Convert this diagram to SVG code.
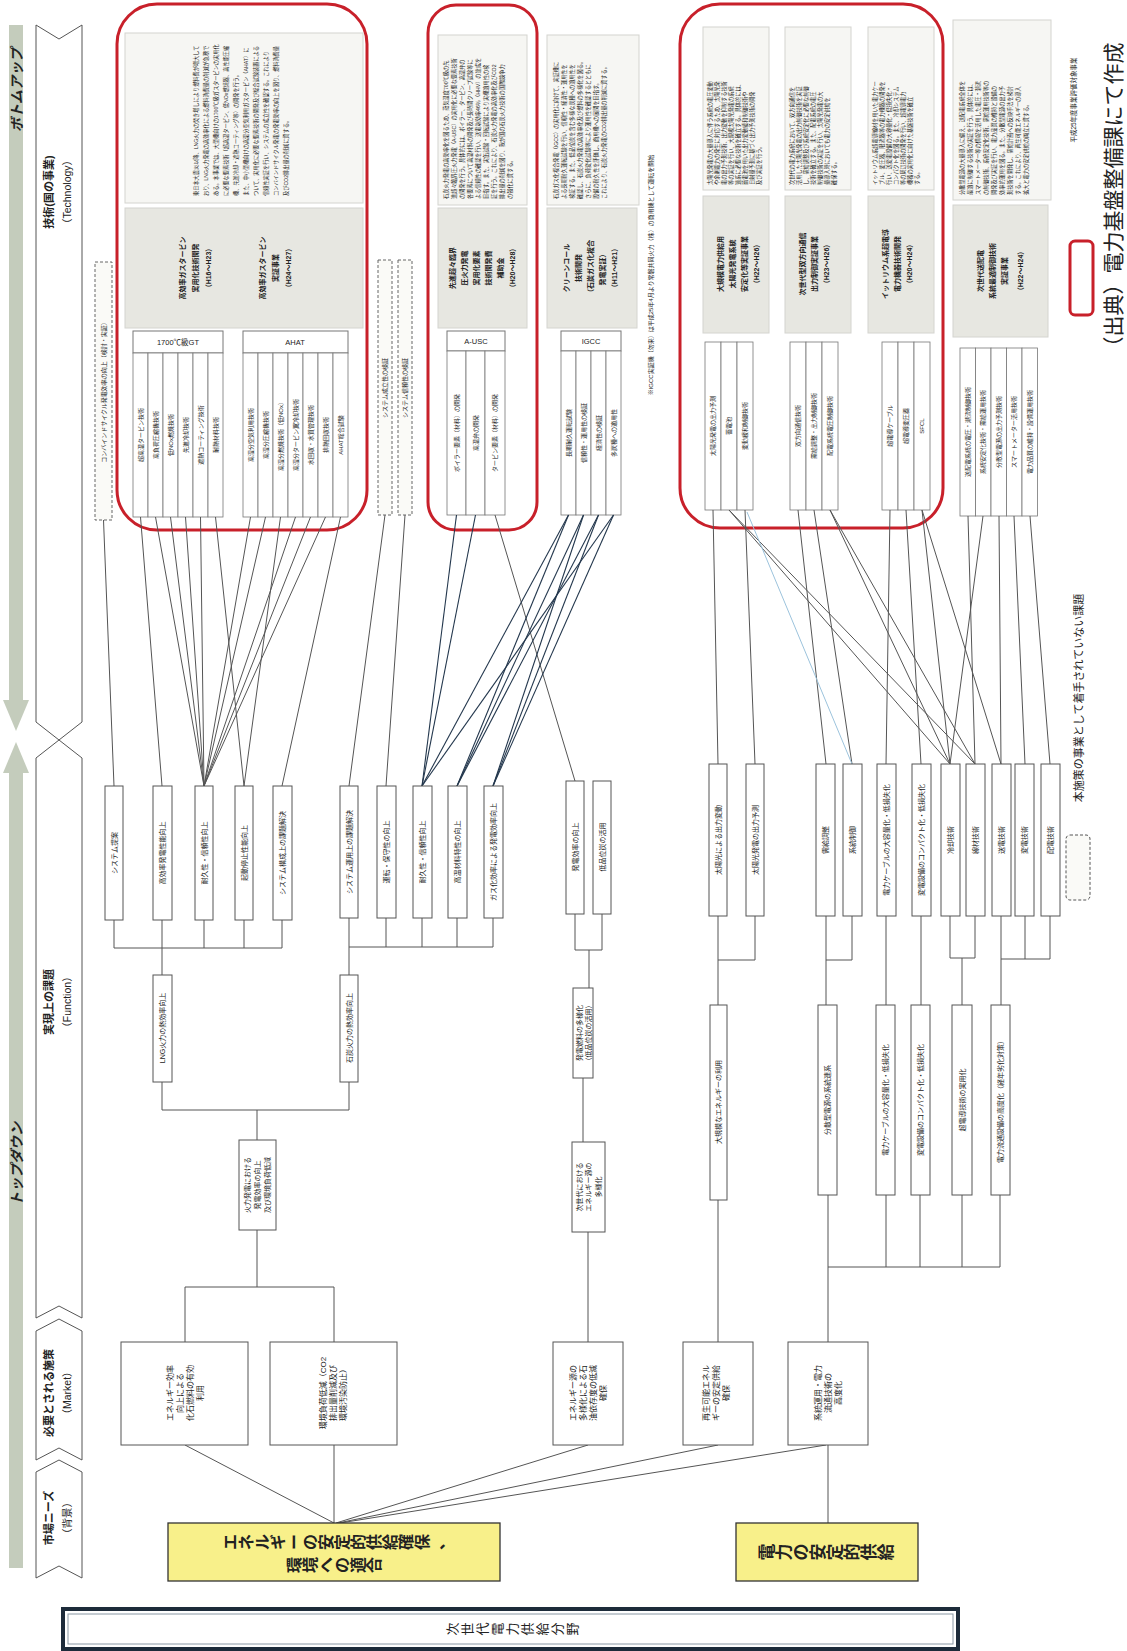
<svg xmlns="http://www.w3.org/2000/svg" width="1127" height="1651" viewBox="0 0 1127 1651">
<style>
text{font-family:"Liberation Sans","Noto Sans CJK JP",sans-serif;fill:#222}
.bx{fill:#fff;stroke:#555;stroke-width:1}
.ln{fill:none;stroke:#555;stroke-width:1}
.lb{fill:none;stroke:#23374d;stroke-width:1.1}
.lc{fill:none;stroke:#9cc3dc;stroke-width:1}
.red{fill:none;stroke:#c8202a;stroke-width:3}
.dash{fill:#fafaf7;stroke:#666;stroke-width:1;stroke-dasharray:3 2}
.desc{fill:#f6f6f3;stroke:#d4d4cf;stroke-width:1}
.grey{fill:#e7e7e1;stroke:#d4d4cf;stroke-width:1}
.hd{fill:#fff;stroke:#777;stroke-width:1}
.cell{fill:#fff;stroke:#777;stroke-width:0.8}
.chev{fill:#fff;stroke:#555;stroke-width:1}
.bar{fill:#c4ccbc}
.yel{fill:#f8f08a;stroke:#333;stroke-width:1.3}
.f7{font-size:7px}
.f6{font-size:6px}
.f5{font-size:5.2px}
.f8{font-size:8px}
.b{font-weight:bold}
.g16{font-size:16px;font-weight:bold}
.g17{font-size:17px;font-weight:bold}
.g13{font-size:13px}
</style>

<g id="header">
<rect class="bar" x="9" y="25" width="14" height="676"/>
<polygon class="bar" points="3,700 29,700 16,731"/>
<polygon class="bar" points="3,773 29,773 16,742"/>
<rect class="bar" x="9" y="772" width="14" height="796"/>
<path class="chev" d="M36,25 L59,39 L82,25 L82,722 L59,740 L36,722 Z"/>
<path class="chev" d="M36,758 L59,740 L82,758 L82,1318 L59,1306 L36,1318 Z"/>
<path class="chev" d="M36,1331 L59,1319 L82,1331 L82,1460 L59,1448 L36,1460 Z"/>
<path class="chev" d="M36,1472 L59,1460 L82,1472 L82,1578 L59,1566 L36,1578 Z"/>
<text transform="translate(17,90) rotate(-90)" text-anchor="middle" dominant-baseline="central" font-size="14" font-weight="bold" font-style="italic">ボトムアップ</text>
<text transform="translate(17,1164) rotate(-90)" text-anchor="middle" dominant-baseline="central" font-size="14" font-weight="bold" font-style="italic">トップダウン</text>
<text transform="translate(49,192) rotate(-90)" text-anchor="middle" dominant-baseline="central" font-size="11" font-weight="bold">技術(国の事業)</text>
<text transform="translate(67,192) rotate(-90)" text-anchor="middle" dominant-baseline="central" font-size="10.5">（Technology）</text>
<text transform="translate(49,1002) rotate(-90)" text-anchor="middle" dominant-baseline="central" font-size="11" font-weight="bold">実現上の課題</text>
<text transform="translate(67,1002) rotate(-90)" text-anchor="middle" dominant-baseline="central" font-size="10.5">（Function）</text>
<text transform="translate(49,1393) rotate(-90)" text-anchor="middle" dominant-baseline="central" font-size="11" font-weight="bold">必要とされる施策</text>
<text transform="translate(67,1393) rotate(-90)" text-anchor="middle" dominant-baseline="central" font-size="10.5">（Market）</text>
<text transform="translate(49,1518) rotate(-90)" text-anchor="middle" dominant-baseline="central" font-size="11" font-weight="bold">市場ニーズ</text>
<text transform="translate(67,1518) rotate(-90)" text-anchor="middle" dominant-baseline="central" font-size="10.5">（背景）</text>
</g>

<g id="title">
<rect x="63" y="1609" width="895" height="40" fill="#fff" stroke="#1d2b3a" stroke-width="4"/>
<rect x="68" y="1614" width="885" height="30" fill="none" stroke="#8a97a4" stroke-width="1"/>
<g class="g13" text-anchor="middle" dominant-baseline="central">
<text transform="translate(452,1629) rotate(-90)">次</text>
<text transform="translate(467,1629) rotate(-90)">世</text>
<text transform="translate(482,1629) rotate(-90)">代</text>
<text transform="translate(497,1629) rotate(-90)">電</text>
<text transform="translate(512,1629) rotate(-90)">力</text>
<text transform="translate(527,1629) rotate(-90)">供</text>
<text transform="translate(542,1629) rotate(-90)">給</text>
<text transform="translate(557,1629) rotate(-90)">分</text>
<text transform="translate(572,1629) rotate(-90)">野</text>
</g>
</g>

<g id="legend">
<text transform="translate(1073,100) rotate(-90)" text-anchor="middle" dominant-baseline="central" font-size="6.5">平成25年度事業評価対象事業</text>
<rect x="1070" y="241" width="23" height="74" rx="5" fill="none" stroke="#c8202a" stroke-width="3"/>
<text transform="translate(1113,200) rotate(-90)" text-anchor="middle" dominant-baseline="central" font-size="21">（出典）電力基盤整備課にて作成</text>
<text transform="translate(1079,698) rotate(-90)" text-anchor="middle" dominant-baseline="central" font-size="11">本施策の事業として着手されていない課題</text>
<rect x="1066" y="835" width="24" height="65" rx="4" fill="#fafaf7" stroke="#555" stroke-dasharray="3 2"/>
</g>

<!-- ===== Technology: red box A (gas turbine) ===== -->
<g id="tech-gt">
<rect class="red" x="117" y="4" width="250" height="526" rx="40"/>
<rect class="desc" x="125" y="33" width="238" height="170"/>
<g class="f5" text-anchor="start" dominant-baseline="central">
<text transform="translate(196,196) rotate(-90)">東日本大震災以降、LNG火力の焚き増しにより燃料費が増大して</text>
<text transform="translate(206,196) rotate(-90)">おり、LNG火力発電の高効率化による燃料消費量の削減が急務で</text>
<text transform="translate(216,196) rotate(-90)">ある。本事業では、大型機向けの1700℃級ガスタービンの実用化</text>
<text transform="translate(226,196) rotate(-90)">に必要な要素技術（超高温タービン、低NOx燃焼器、高性能圧縮</text>
<text transform="translate(236,196) rotate(-90)">機、先進冷却・遮熱コーティング等）の開発を行う。</text>
<text transform="translate(246,196) rotate(-90)">また、中小型機向けの高湿分空気利用ガスタービン（AHAT）に</text>
<text transform="translate(256,196) rotate(-90)">ついて、実用化に必要な要素技術の開発及び総合試験装置による</text>
<text transform="translate(266,196) rotate(-90)">信頼性実証を行い、システムの成立性を確認する。これにより</text>
<text transform="translate(276,196) rotate(-90)">コンバインドサイクル発電の発電効率の向上を図り、燃料消費量</text>
<text transform="translate(286,196) rotate(-90)">及びCO2排出量の削減に資する。</text>
</g>
<rect class="grey" x="125" y="208" width="238" height="120"/>
<g class="f7 b" text-anchor="middle" dominant-baseline="central">
<text transform="translate(182,268) rotate(-90)">高効率ガスタービン</text>
<text transform="translate(195,268) rotate(-90)">実用化技術開発</text>
<text transform="translate(208,268) rotate(-90)">（H16～H23）</text>
<text transform="translate(262,268) rotate(-90)">高効率ガスタービン</text>
<text transform="translate(275,268) rotate(-90)">実証事業</text>
<text transform="translate(288,268) rotate(-90)">（H24～H27）</text>
</g>
<rect class="hd" x="133" y="331" width="90" height="22"/>
<text x="178" y="345" text-anchor="middle" font-size="7.5">1700℃級GT</text>
<rect class="hd" x="243" y="331" width="105" height="22"/>
<text x="295" y="345" text-anchor="middle" font-size="7.5">AHAT</text>
<rect class="cell" x="133" y="353" width="15" height="164"/>
<rect class="cell" x="148" y="353" width="15" height="164"/>
<rect class="cell" x="163" y="353" width="15" height="164"/>
<rect class="cell" x="178" y="353" width="15" height="164"/>
<rect class="cell" x="193" y="353" width="15" height="164"/>
<rect class="cell" x="208" y="353" width="15" height="164"/>
<rect class="cell" x="243" y="353" width="15" height="164"/>
<rect class="cell" x="258" y="353" width="15" height="164"/>
<rect class="cell" x="273" y="353" width="15" height="164"/>
<rect class="cell" x="288" y="353" width="15" height="164"/>
<rect class="cell" x="303" y="353" width="15" height="164"/>
<rect class="cell" x="318" y="353" width="15" height="164"/>
<rect class="cell" x="333" y="353" width="15" height="164"/>
<g class="f6" text-anchor="middle" dominant-baseline="central">
<text transform="translate(140.5,435) rotate(-90)">超高温タービン技術</text>
<text transform="translate(155.5,435) rotate(-90)">高負荷圧縮機技術</text>
<text transform="translate(170.5,435) rotate(-90)">低NOx燃焼技術</text>
<text transform="translate(185.5,435) rotate(-90)">先進冷却技術</text>
<text transform="translate(200.5,435) rotate(-90)">遮熱コーティング技術</text>
<text transform="translate(215.5,435) rotate(-90)">耐熱材料技術</text>
<text transform="translate(250.5,435) rotate(-90)">高湿分空気利用技術</text>
<text transform="translate(265.5,435) rotate(-90)">高湿分圧縮機技術</text>
<text transform="translate(280.5,435) rotate(-90)">高湿分燃焼技術（低NOx）</text>
<text transform="translate(295.5,435) rotate(-90)">高湿分タービン翼冷却技術</text>
<text transform="translate(310.5,435) rotate(-90)">水回収・水質管理技術</text>
<text transform="translate(325.5,435) rotate(-90)">排熱回収技術</text>
<text transform="translate(340.5,435) rotate(-90)">AHAT総合試験</text>
</g>
</g>

<g id="tech-dashed">
<rect class="dash" x="95" y="262" width="17" height="258"/>
<text transform="translate(103.5,391) rotate(-90)" class="f6" text-anchor="middle" dominant-baseline="central">コンバインドサイクル発電効率の向上（検討・実証）</text>
<rect class="dash" x="378" y="260" width="14" height="255"/>
<text transform="translate(385,388) rotate(-90)" class="f6" text-anchor="middle" dominant-baseline="central">システム成立性の検証</text>
<rect class="dash" x="398" y="260" width="14" height="255"/>
<text transform="translate(405,388) rotate(-90)" class="f6" text-anchor="middle" dominant-baseline="central">システム信頼性の検証</text>
</g>

<!-- ===== red box B (A-USC) ===== -->
<g id="tech-ausc">
<rect class="red" x="428" y="5" width="109" height="525" rx="28"/>
<rect class="desc" x="438" y="35" width="89" height="170"/>
<g class="f5" text-anchor="start" dominant-baseline="central">
<text transform="translate(446,199) rotate(-90)">石炭火力発電の高効率化を図るため、蒸気温度700℃級の先</text>
<text transform="translate(454,199) rotate(-90)">進超々臨界圧火力発電（A-USC）の実用化に必要な要素技術</text>
<text transform="translate(462,199) rotate(-90)">の開発を行う。具体的には、ボイラー、タービン、高温弁の</text>
<text transform="translate(470,199) rotate(-90)">各要素について高温材料の開発及び長時間クリープ試験等に</text>
<text transform="translate(478,199) rotate(-90)">よる信頼性の確認を行い、送電端効率46％（HHV）の達成を</text>
<text transform="translate(486,199) rotate(-90)">目指す。また、実缶試験・回転試験により実機適用性の検</text>
<text transform="translate(494,199) rotate(-90)">証を行う。これにより、石炭火力発電の高効率化及びCO2</text>
<text transform="translate(502,199) rotate(-90)">排出量の削減を図り、我が国の石炭火力技術の国際競争力</text>
<text transform="translate(510,199) rotate(-90)">の強化に資する。</text>
</g>
<rect class="grey" x="438" y="208" width="89" height="120"/>
<g class="f7 b" text-anchor="middle" dominant-baseline="central">
<text transform="translate(452,268) rotate(-90)">先進超々臨界</text>
<text transform="translate(464,268) rotate(-90)">圧火力発電</text>
<text transform="translate(476,268) rotate(-90)">実用化要素</text>
<text transform="translate(488,268) rotate(-90)">技術開発費</text>
<text transform="translate(500,268) rotate(-90)">補助金</text>
<text transform="translate(512,268) rotate(-90)">（H20～H28）</text>
</g>
<rect class="hd" x="447" y="331" width="58" height="20"/>
<text x="476" y="344" text-anchor="middle" font-size="7.5">A-USC</text>
<rect class="cell" x="447" y="351" width="19" height="164"/>
<rect class="cell" x="466" y="351" width="19" height="164"/>
<rect class="cell" x="485" y="351" width="20" height="164"/>
<g class="f6" text-anchor="middle" dominant-baseline="central">
<text transform="translate(456.5,433) rotate(-90)">ボイラー要素（材料）の開発</text>
<text transform="translate(475.5,433) rotate(-90)">高温弁の開発</text>
<text transform="translate(495,433) rotate(-90)">タービン要素（材料）の開発</text>
</g>
</g>

<!-- ===== IGCC ===== -->
<g id="tech-igcc">
<rect class="desc" x="547" y="35" width="92" height="170"/>
<g class="f5" text-anchor="start" dominant-baseline="central">
<text transform="translate(556,199) rotate(-90)">石炭ガス化複合発電（IGCC）の実用化に向けて、実証機に</text>
<text transform="translate(564,199) rotate(-90)">よる長期耐久運転試験を行い、信頼性・経済性・運用性を</text>
<text transform="translate(572,199) rotate(-90)">検証する。また、低品位炭を含む多様な炭種への適用性を</text>
<text transform="translate(580,199) rotate(-90)">確認し、石炭火力発電の高効率化及び燃料の多様化を図る。</text>
<text transform="translate(588,199) rotate(-90)">さらに、負荷変化試験等により運用性を確認するとともに</text>
<text transform="translate(596,199) rotate(-90)">設備の耐久性を評価し、商用機への展開を目指す。</text>
<text transform="translate(604,199) rotate(-90)">これにより、石炭火力発電のCO2排出量の削減に資する。</text>
</g>
<rect class="grey" x="547" y="208" width="90" height="120"/>
<g class="f7 b" text-anchor="middle" dominant-baseline="central">
<text transform="translate(566,268) rotate(-90)">クリーンコール</text>
<text transform="translate(578,268) rotate(-90)">技術開発</text>
<text transform="translate(590,268) rotate(-90)">（石炭ガス化複合</text>
<text transform="translate(602,268) rotate(-90)">発電実証）</text>
<text transform="translate(614,268) rotate(-90)">（H11～H21）</text>
</g>
<rect class="hd" x="561" y="331" width="60" height="20"/>
<text x="591" y="344" text-anchor="middle" font-size="7.5">IGCC</text>
<rect class="cell" x="561" y="351" width="15" height="164"/>
<rect class="cell" x="576" y="351" width="15" height="164"/>
<rect class="cell" x="591" y="351" width="15" height="164"/>
<rect class="cell" x="606" y="351" width="15" height="164"/>
<g class="f6" text-anchor="middle" dominant-baseline="central">
<text transform="translate(568.5,433) rotate(-90)">長期耐久運転試験</text>
<text transform="translate(583.5,433) rotate(-90)">信頼性・運用性の検証</text>
<text transform="translate(598.5,433) rotate(-90)">経済性の検証</text>
<text transform="translate(613.5,433) rotate(-90)">多炭種への適用性</text>
</g>
<text transform="translate(651,275) rotate(-90)" class="f6" text-anchor="middle" dominant-baseline="central">※IGCC実証機（勿来）は平成25年4月より常磐共同火力（株）の商用機として運転を開始</text>
</g>

<!-- ===== red box C (grid) ===== -->
<g id="tech-grid">
<rect class="red" x="680" y="4" width="263" height="524" rx="40"/>
<rect class="desc" x="703" y="27" width="66" height="163"/>
<rect class="desc" x="785" y="27" width="66" height="163"/>
<rect class="desc" x="868" y="27" width="66" height="163"/>
<g class="f5" text-anchor="start" dominant-baseline="central">
<text transform="translate(710,185) rotate(-90)">太陽光発電の大量導入に伴う系統の電圧変動</text>
<text transform="translate(717,185) rotate(-90)">や余剰電力の発生に対応するため、太陽光発</text>
<text transform="translate(724,185) rotate(-90)">電の出力予測技術、出力変動を抑制する技術</text>
<text transform="translate(731,185) rotate(-90)">等の実証を行い、大規模太陽光発電の系統</text>
<text transform="translate(738,185) rotate(-90)">連系に必要な技術を確立する。具体的には、</text>
<text transform="translate(745,185) rotate(-90)">蓄電池を用いた出力変動緩和制御技術や</text>
<text transform="translate(752,185) rotate(-90)">日射量予測に基づく出力予測技術の開発</text>
<text transform="translate(759,185) rotate(-90)">及び実証を行う。</text>
<text transform="translate(792,185) rotate(-90)">次世代の電力系統において、双方向通信を</text>
<text transform="translate(799,185) rotate(-90)">活用した太陽光発電の出力制御技術を実証</text>
<text transform="translate(806,185) rotate(-90)">し、需給調整及び系統安定化に必要な制御</text>
<text transform="translate(813,185) rotate(-90)">技術を確立する。また、配電系統の電圧</text>
<text transform="translate(820,185) rotate(-90)">制御技術の実証を行い、太陽光発電の大</text>
<text transform="translate(827,185) rotate(-90)">量導入時においても電力の安定供給を</text>
<text transform="translate(834,185) rotate(-90)">確保する。</text>
<text transform="translate(875,185) rotate(-90)">イットリウム系超電導線材を用いた電力ケー</text>
<text transform="translate(882,185) rotate(-90)">ブル、変圧器、限流器等の電力機器の開発を</text>
<text transform="translate(889,185) rotate(-90)">行い、送変電設備の大容量化・低損失化・</text>
<text transform="translate(896,185) rotate(-90)">コンパクト化を図る。また、冷却システム</text>
<text transform="translate(903,185) rotate(-90)">等の周辺技術の開発を行い、超電導電力</text>
<text transform="translate(910,185) rotate(-90)">機器の実用化に向けた基盤技術を確立</text>
<text transform="translate(917,185) rotate(-90)">する。</text>
</g>
<rect class="grey" x="703" y="196" width="66" height="137"/>
<rect class="grey" x="785" y="196" width="66" height="137"/>
<rect class="grey" x="868" y="196" width="66" height="137"/>
<g class="f7 b" text-anchor="middle" dominant-baseline="central">
<text transform="translate(720,264) rotate(-90)">大規模電力供給用</text>
<text transform="translate(732,264) rotate(-90)">太陽光発電系統</text>
<text transform="translate(744,264) rotate(-90)">安定化等実証事業</text>
<text transform="translate(756,264) rotate(-90)">（H22～H26）</text>
<text transform="translate(802,264) rotate(-90)">次世代型双方向通信</text>
<text transform="translate(814,264) rotate(-90)">出力制御実証事業</text>
<text transform="translate(826,264) rotate(-90)">（H23～H26）</text>
<text transform="translate(885,264) rotate(-90)">イットリウム系超電導</text>
<text transform="translate(897,264) rotate(-90)">電力機器技術開発</text>
<text transform="translate(909,264) rotate(-90)">（H20～H24）</text>
</g>
<rect class="cell" x="705" y="342" width="16" height="168"/>
<rect class="cell" x="721" y="342" width="16" height="168"/>
<rect class="cell" x="737" y="342" width="16" height="168"/>
<rect class="cell" x="790" y="342" width="16" height="168"/>
<rect class="cell" x="806" y="342" width="16" height="168"/>
<rect class="cell" x="822" y="342" width="16" height="168"/>
<rect class="cell" x="882" y="342" width="16" height="168"/>
<rect class="cell" x="898" y="342" width="16" height="168"/>
<rect class="cell" x="914" y="342" width="16" height="168"/>
<g class="f6" text-anchor="middle" dominant-baseline="central">
<text transform="translate(713,426) rotate(-90)">太陽光発電の出力予測</text>
<text transform="translate(729,426) rotate(-90)">蓄電池</text>
<text transform="translate(745,426) rotate(-90)">変動緩和制御技術</text>
<text transform="translate(798,426) rotate(-90)">双方向通信技術</text>
<text transform="translate(814,426) rotate(-90)">需給調整・出力制御技術</text>
<text transform="translate(830,426) rotate(-90)">配電系統電圧制御技術</text>
<text transform="translate(890,426) rotate(-90)">超電導ケーブル</text>
<text transform="translate(906,426) rotate(-90)">超電導変圧器</text>
<text transform="translate(922,426) rotate(-90)">SFCL</text>
</g>
</g>

<!-- ===== right column (not target) ===== -->
<g id="tech-right">
<rect class="desc" x="953" y="20" width="98" height="180"/>
<g class="f5" text-anchor="start" dominant-baseline="central">
<text transform="translate(962,195) rotate(-90)">分散型電源の大量導入に備え、送配電系統全体を</text>
<text transform="translate(970,195) rotate(-90)">最適に制御する技術の実証を行う。具体的には、</text>
<text transform="translate(978,195) rotate(-90)">スマートメーター等の情報を活用した電圧・潮流</text>
<text transform="translate(986,195) rotate(-90)">の制御技術、系統安定化技術、需給運用技術等の</text>
<text transform="translate(994,195) rotate(-90)">開発及び実証を行い、電力品質の維持と設備の</text>
<text transform="translate(1002,195) rotate(-90)">効率的運用を図る。また、分散型電源の出力予</text>
<text transform="translate(1010,195) rotate(-90)">測技術を開発し、需給計画への反映手法を検討</text>
<text transform="translate(1018,195) rotate(-90)">する。これにより、再生可能エネルギーの導入</text>
<text transform="translate(1026,195) rotate(-90)">拡大と電力の安定供給の両立に資する。</text>
</g>
<rect class="grey" x="953" y="205" width="95" height="132"/>
<g class="f7 b" text-anchor="middle" dominant-baseline="central">
<text transform="translate(980,271) rotate(-90)">次世代送配電</text>
<text transform="translate(992,271) rotate(-90)">系統最適制御技術</text>
<text transform="translate(1004,271) rotate(-90)">実証事業</text>
<text transform="translate(1020,271) rotate(-90)">（H22～H24）</text>
</g>
<rect class="cell" x="960" y="348" width="15.5" height="168"/>
<rect class="cell" x="975.5" y="348" width="15.5" height="168"/>
<rect class="cell" x="991" y="348" width="15.5" height="168"/>
<rect class="cell" x="1006.5" y="348" width="15.5" height="168"/>
<rect class="cell" x="1022" y="348" width="15.5" height="168"/>
<g class="f6" text-anchor="middle" dominant-baseline="central">
<text transform="translate(968,432) rotate(-90)">送配電系統の電圧・潮流制御技術</text>
<text transform="translate(983,432) rotate(-90)">系統安定化技術・需給運用技術</text>
<text transform="translate(999,432) rotate(-90)">分散型電源の出力予測技術</text>
<text transform="translate(1014,432) rotate(-90)">スマートメーター活用技術</text>
<text transform="translate(1030,432) rotate(-90)">電力品質の維持・設備運用技術</text>
</g>
</g>

<!-- ===== connectors ===== -->
<g id="connectors">
<g class="ln">
<line x1="103.5" y1="520" x2="114" y2="786"/>
<line x1="140.5" y1="517" x2="162" y2="786"/>
<line x1="155.5" y1="517" x2="204" y2="786"/>
<line x1="170.5" y1="517" x2="204" y2="786"/>
<line x1="185.5" y1="517" x2="204" y2="786"/>
<line x1="200.5" y1="517" x2="204" y2="786"/>
<line x1="215.5" y1="517" x2="244" y2="786"/>
<line x1="250.5" y1="517" x2="204" y2="786"/>
<line x1="265.5" y1="517" x2="204" y2="786"/>
<line x1="280.5" y1="517" x2="244" y2="786"/>
<line x1="295.5" y1="517" x2="204" y2="786"/>
<line x1="310.5" y1="517" x2="204" y2="786"/>
<line x1="325.5" y1="517" x2="204" y2="786"/>
<line x1="340.5" y1="517" x2="282" y2="786"/>
<line x1="385" y1="515" x2="349" y2="786"/>
<line x1="405" y1="515" x2="386" y2="786"/>
<line x1="495" y1="515" x2="575" y2="781"/>
</g>
<g class="lb">
<line x1="456.5" y1="515" x2="422" y2="786"/>
<line x1="475.5" y1="515" x2="422" y2="786"/>
<line x1="568.5" y1="515" x2="422" y2="786"/>
<line x1="568.5" y1="515" x2="457" y2="786"/>
<line x1="583.5" y1="515" x2="457" y2="786"/>
<line x1="583.5" y1="515" x2="493" y2="786"/>
<line x1="598.5" y1="515" x2="457" y2="786"/>
<line x1="598.5" y1="515" x2="493" y2="786"/>
<line x1="613.5" y1="515" x2="493" y2="786"/>
<line x1="613.5" y1="515" x2="422" y2="786"/>
</g>
<g class="ln">
<line x1="713" y1="510" x2="718" y2="764"/>
<line x1="745" y1="510" x2="755" y2="764"/>
<line x1="729" y1="510" x2="950" y2="764"/>
<line x1="729" y1="510" x2="975" y2="764"/>
<line x1="798" y1="510" x2="826" y2="764"/>
<line x1="814" y1="510" x2="852" y2="764"/>
<line x1="830" y1="510" x2="950" y2="764"/>
<line x1="830" y1="510" x2="975" y2="764"/>
<line x1="890" y1="510" x2="886" y2="764"/>
<line x1="906" y1="510" x2="921" y2="764"/>
<line x1="922" y1="510" x2="950" y2="764"/>
<line x1="922" y1="510" x2="1001" y2="764"/>
<line x1="968" y1="516" x2="975" y2="764"/>
<line x1="983" y1="516" x2="950" y2="764"/>
<line x1="999" y1="516" x2="1001" y2="764"/>
<line x1="1014" y1="516" x2="1025" y2="764"/>
<line x1="1030" y1="516" x2="1050" y2="764"/>
</g>
<line class="lc" x1="747" y1="512" x2="852" y2="764"/>
<g class="ln">
<polyline points="114,920 114,948 282,948 282,920"/>
<line x1="162" y1="920" x2="162" y2="975"/>
<line x1="204" y1="920" x2="204" y2="948"/>
<line x1="244" y1="920" x2="244" y2="948"/>
<polyline points="349,918 349,975"/>
<polyline points="349,947 493,947"/>
<line x1="386" y1="918" x2="386" y2="947"/>
<line x1="422" y1="918" x2="422" y2="947"/>
<line x1="457" y1="918" x2="457" y2="947"/>
<line x1="493" y1="918" x2="493" y2="947"/>
<polyline points="162,1082 162,1110 349,1110 349,1082"/>
<line x1="257" y1="1110" x2="257" y2="1140"/>
<line x1="257" y1="1230" x2="257" y2="1287"/>
<polyline points="185,1342 185,1287 334,1287 334,1342"/>
<polyline points="575,914 575,950 602,950 602,914"/>
<line x1="589" y1="950" x2="589" y2="988"/>
<line x1="583" y1="1078" x2="583" y2="1142"/>
<line x1="588" y1="1232" x2="588" y2="1342"/>
<line x1="718" y1="916" x2="718" y2="1005"/>
<polyline points="755,916 755,960 718,960"/>
<line x1="826" y1="916" x2="826" y2="1005"/>
<polyline points="852,916 852,960 826,960"/>
<line x1="886" y1="916" x2="886" y2="1005"/>
<line x1="921" y1="916" x2="921" y2="1005"/>
<polyline points="950,916 950,958 975,958 975,916"/>
<line x1="962" y1="958" x2="962" y2="1005"/>
<line x1="1001" y1="916" x2="1001" y2="1005"/>
<polyline points="1001,959 1050,959 1050,916"/>
<line x1="1025" y1="916" x2="1025" y2="959"/>
<line x1="718" y1="1200" x2="718" y2="1342"/>
<line x1="828" y1="1195" x2="828" y2="1342"/>
<line x1="828" y1="1267" x2="1000" y2="1267"/>
<line x1="886" y1="1195" x2="886" y2="1267"/>
<line x1="920" y1="1195" x2="920" y2="1267"/>
<line x1="962" y1="1195" x2="962" y2="1267"/>
<line x1="1000" y1="1195" x2="1000" y2="1267"/>
<line x1="334" y1="1523" x2="185" y2="1445"/>
<line x1="334" y1="1523" x2="334" y2="1445"/>
<line x1="336" y1="1523" x2="588" y2="1445"/>
<line x1="338" y1="1523" x2="718" y2="1445"/>
<line x1="340" y1="1523" x2="826" y2="1445"/>
<line x1="828" y1="1523" x2="828" y2="1445"/>
</g>
</g>

<!-- ===== Function L1 ===== -->
<g id="func-l1" class="f7" text-anchor="middle" dominant-baseline="central">
<rect class="bx" x="105" y="786" width="18" height="134"/><text transform="translate(114,853) rotate(-90)">システム提案</text>
<rect class="bx" x="153" y="786" width="19" height="134"/><text transform="translate(162.5,853) rotate(-90)">高効率発電性能向上</text>
<rect class="bx" x="195" y="786" width="18" height="134"/><text transform="translate(204,853) rotate(-90)">耐久性・信頼性向上</text>
<rect class="bx" x="235" y="786" width="18" height="134"/><text transform="translate(244,853) rotate(-90)">起動停止性能向上</text>
<rect class="bx" x="273" y="786" width="19" height="134"/><text transform="translate(282.5,853) rotate(-90)">システム構成上の課題解決</text>
<rect class="bx" x="340" y="786" width="18" height="132"/><text transform="translate(349,852) rotate(-90)">システム運用上の課題解決</text>
<rect class="bx" x="377" y="786" width="19" height="132"/><text transform="translate(386.5,852) rotate(-90)">運転・保守性の向上</text>
<rect class="bx" x="413" y="786" width="19" height="132"/><text transform="translate(422.5,852) rotate(-90)">耐久性・信頼性向上</text>
<rect class="bx" x="448" y="786" width="19" height="132"/><text transform="translate(457.5,852) rotate(-90)">高温材料特性の向上</text>
<rect class="bx" x="484" y="786" width="19" height="132"/><text transform="translate(493.5,852) rotate(-90)">ガス化効率による発電効率向上</text>
<rect class="bx" x="566" y="781" width="18" height="133"/><text transform="translate(575,847) rotate(-90)">発電効率の向上</text>
<rect class="bx" x="593" y="781" width="18" height="133"/><text transform="translate(602,847) rotate(-90)">低品位炭の活用</text>
<rect class="bx" x="709" y="764" width="18" height="152"/><text transform="translate(718,840) rotate(-90)">太陽光による出力変動</text>
<rect class="bx" x="746" y="764" width="18" height="152"/><text transform="translate(755,840) rotate(-90)">太陽光発電の出力予測</text>
<rect class="bx" x="816" y="764" width="19" height="152"/><text transform="translate(825.5,840) rotate(-90)">需給調整</text>
<rect class="bx" x="843" y="764" width="19" height="152"/><text transform="translate(852.5,840) rotate(-90)">系統制御</text>
<rect class="bx" x="877" y="764" width="19" height="152"/><text transform="translate(886.5,840) rotate(-90)">電力ケーブルの大容量化・低損失化</text>
<rect class="bx" x="912" y="764" width="19" height="152"/><text transform="translate(921.5,840) rotate(-90)">変電設備のコンパクト化・低損失化</text>
<rect class="bx" x="941" y="764" width="19" height="152"/><text transform="translate(950.5,840) rotate(-90)">冷却技術</text>
<rect class="bx" x="966" y="764" width="19" height="152"/><text transform="translate(975.5,840) rotate(-90)">線材技術</text>
<rect class="bx" x="992" y="764" width="19" height="152"/><text transform="translate(1001.5,840) rotate(-90)">送電技術</text>
<rect class="bx" x="1015" y="764" width="19" height="152"/><text transform="translate(1024.5,840) rotate(-90)">変電技術</text>
<rect class="bx" x="1041" y="764" width="19" height="152"/><text transform="translate(1050.5,840) rotate(-90)">配電技術</text>
</g>

<!-- ===== Function L2/L3 ===== -->
<g id="func-l2" class="f7" text-anchor="middle" dominant-baseline="central">
<rect class="bx" x="153" y="975" width="19" height="107"/><text transform="translate(162.5,1028) rotate(-90)">LNG火力の熱効率向上</text>
<rect class="bx" x="340" y="975" width="18" height="107"/><text transform="translate(349,1028) rotate(-90)">石炭火力の熱効率向上</text>
<rect class="bx" x="573" y="988" width="20" height="90"/>
<text transform="translate(579,1033) rotate(-90)">発電燃料の多様化</text>
<text transform="translate(588,1033) rotate(-90)">（低品位炭の活用）</text>
<rect class="bx" x="710" y="1005" width="17" height="195"/><text transform="translate(718.5,1102) rotate(-90)">大規模なエネルギーの利用</text>
<rect class="bx" x="818" y="1005" width="19" height="190"/><text transform="translate(827.5,1100) rotate(-90)">分散型電源の系統連系</text>
<rect class="bx" x="876" y="1005" width="19" height="190"/><text transform="translate(885.5,1100) rotate(-90)">電力ケーブルの大容量化・低損失化</text>
<rect class="bx" x="911" y="1005" width="19" height="190"/><text transform="translate(920.5,1100) rotate(-90)">変電設備のコンパクト化・低損失化</text>
<rect class="bx" x="952" y="1005" width="20" height="190"/><text transform="translate(962,1100) rotate(-90)">超電導技術の実用化</text>
<rect class="bx" x="991" y="1005" width="19" height="190"/><text transform="translate(1000.5,1100) rotate(-90)">電力流通設備の高度化（経年劣化対策）</text>
</g>
<g id="func-l3" class="f7" text-anchor="middle" dominant-baseline="central">
<rect class="bx" x="239" y="1140" width="37" height="90"/>
<text transform="translate(247,1185) rotate(-90)">火力発電における</text>
<text transform="translate(257,1185) rotate(-90)">発電効率の向上</text>
<text transform="translate(267,1185) rotate(-90)">及び環境負荷低減</text>
<rect class="bx" x="572" y="1142" width="33" height="90"/>
<text transform="translate(579,1187) rotate(-90)">次世代における</text>
<text transform="translate(588.5,1187) rotate(-90)">エネルギー源の</text>
<text transform="translate(598,1187) rotate(-90)">多様化</text>
</g>

<!-- ===== Market ===== -->
<g id="market" class="f8" text-anchor="middle" dominant-baseline="central">
<rect class="bx" x="121" y="1342" width="127" height="103"/>
<text transform="translate(170,1393) rotate(-90)">エネルギー効率</text>
<text transform="translate(180,1393) rotate(-90)">向上による</text>
<text transform="translate(190,1393) rotate(-90)">化石燃料の有効</text>
<text transform="translate(200,1393) rotate(-90)">利用</text>
<rect class="bx" x="270" y="1342" width="127" height="103"/>
<text transform="translate(323,1393) rotate(-90)">環境負荷低減（CO2</text>
<text transform="translate(333,1393) rotate(-90)">排出量削減及び</text>
<text transform="translate(343,1393) rotate(-90)">環境汚染防止）</text>
<rect class="bx" x="553" y="1342" width="70" height="103"/>
<text transform="translate(573,1393) rotate(-90)">エネルギー源の</text>
<text transform="translate(583,1393) rotate(-90)">多様化による石</text>
<text transform="translate(593,1393) rotate(-90)">油依存度の低減</text>
<text transform="translate(603,1393) rotate(-90)">確保</text>
<rect class="bx" x="683" y="1342" width="70" height="103"/>
<text transform="translate(706,1393) rotate(-90)">再生可能エネル</text>
<text transform="translate(716,1393) rotate(-90)">ギーの安定供給</text>
<text transform="translate(726,1393) rotate(-90)">確保</text>
<rect class="bx" x="788" y="1342" width="80" height="103"/>
<text transform="translate(818,1393) rotate(-90)">系統運用・電力</text>
<text transform="translate(828,1393) rotate(-90)">流通技術の</text>
<text transform="translate(838,1393) rotate(-90)">高度化</text>
</g>

<!-- ===== Needs ===== -->
<g id="needs">
<rect class="yel" x="168" y="1523" width="332" height="58"/>
<g class="g16" text-anchor="middle" dominant-baseline="central">
<text transform="translate(230,1542) rotate(-90)">エ</text>
<text transform="translate(246,1542) rotate(-90)">ネ</text>
<text transform="translate(262,1542) rotate(-90)">ル</text>
<text transform="translate(278,1542) rotate(-90)">ギ</text>
<text transform="translate(294,1542) rotate(-90)">ー</text>
<text transform="translate(310,1542) rotate(-90)">の</text>
<text transform="translate(326,1542) rotate(-90)">安</text>
<text transform="translate(342,1542) rotate(-90)">定</text>
<text transform="translate(358,1542) rotate(-90)">的</text>
<text transform="translate(374,1542) rotate(-90)">供</text>
<text transform="translate(390,1542) rotate(-90)">給</text>
<text transform="translate(406,1542) rotate(-90)">確</text>
<text transform="translate(422,1542) rotate(-90)">保</text>
<text transform="translate(438,1542) rotate(-90)">、</text>
<text transform="translate(294,1565) rotate(-90)">環</text>
<text transform="translate(310,1565) rotate(-90)">境</text>
<text transform="translate(326,1565) rotate(-90)">へ</text>
<text transform="translate(342,1565) rotate(-90)">の</text>
<text transform="translate(358,1565) rotate(-90)">適</text>
<text transform="translate(374,1565) rotate(-90)">合</text>
</g>
<rect class="yel" x="736" y="1523" width="182" height="58"/>
<g class="g17" text-anchor="middle" dominant-baseline="central">
<text transform="translate(767.5,1552) rotate(-90)">電</text>
<text transform="translate(784.5,1552) rotate(-90)">力</text>
<text transform="translate(801.5,1552) rotate(-90)">の</text>
<text transform="translate(818.5,1552) rotate(-90)">安</text>
<text transform="translate(835.5,1552) rotate(-90)">定</text>
<text transform="translate(852.5,1552) rotate(-90)">的</text>
<text transform="translate(869.5,1552) rotate(-90)">供</text>
<text transform="translate(886.5,1552) rotate(-90)">給</text>
</g>
</g>
</svg>
